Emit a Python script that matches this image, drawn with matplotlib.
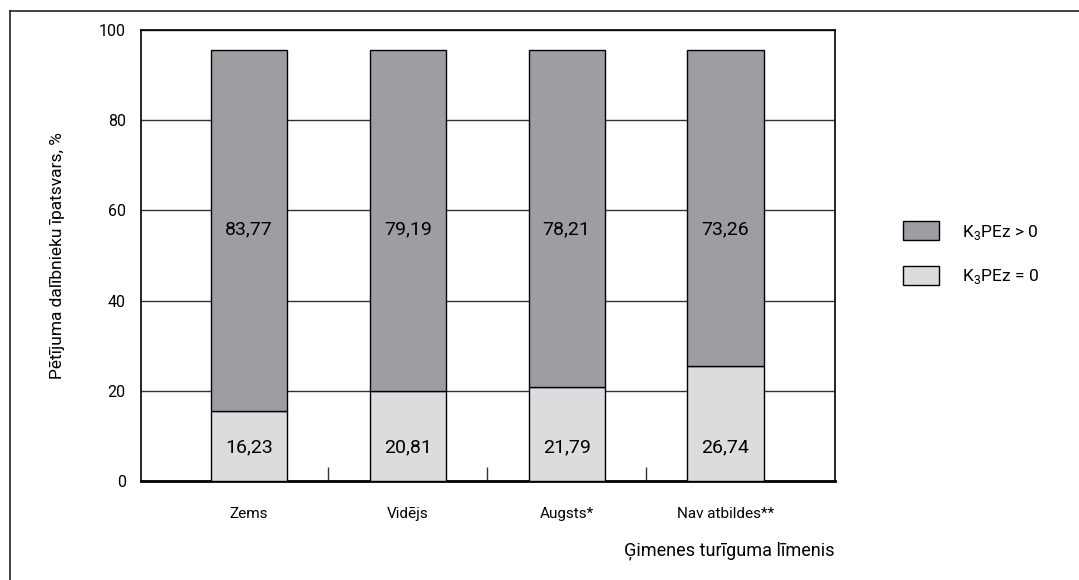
import matplotlib
matplotlib.use("Agg")
import matplotlib.pyplot as plt
from matplotlib.patches import Patch
from matplotlib.lines import Line2D
import numpy as np

plt.rcParams['font.family'] = ['Roboto', 'DejaVu Sans']

categories = ["Zems", "Vidējs", "Augsts*", "Nav atbildes**"]
zero_vals = [16.23, 20.81, 21.79, 26.74]
pos_vals = [83.77, 79.19, 78.21, 73.26]
ytick_vals = [0, 20, 40, 60, 80, 100]
legend_labels = [r"K$_\mathregular{3}$PEz > 0", r"K$_\mathregular{3}$PEz = 0"]
xlabel = "Ģimenes turīguma līmenis"
ylabel = "Pētījuma dalībnieku īpatsvars, %"

dark = "#9d9ea2"
light = "#dcdcde"

fig = plt.figure(figsize=(10.79, 5.80), dpi=100)
ax = fig.add_axes([0.1307, 0.1707, 0.6432, 0.7776])
axb = ax.twinx()

x = np.arange(len(categories))
ax.set_xlim(-0.68, 3.69)
ax.set_ylim(0, 100)
axb.set_ylim(0, 104.6)

ax.set_yticks(ytick_vals)
ax.set_yticklabels([str(v) for v in ytick_vals], fontsize=11.5)
ax.tick_params(axis='y', length=0, pad=11)
ax.yaxis.grid(True, color='#333333', linewidth=1.0)
ax.set_axisbelow(True)

ax.set_xticks(x)
ax.set_xticklabels(categories, fontsize=11)
ax.tick_params(axis='x', which='major', length=0, pad=19)
ax.set_xticks([0.5, 1.5, 2.5], minor=True)
ax.tick_params(axis='x', which='minor', direction='in', length=10, width=1, color='#333333')

axb.set_yticks([])
for s in axb.spines.values():
    s.set_visible(False)
for name, s in ax.spines.items():
    s.set_color('black')
    s.set_linewidth(1.2)
ax.spines['bottom'].set_linewidth(2.0)

w = 0.48
axb.bar(x, zero_vals, width=w, color=light, edgecolor='black', linewidth=1.0, zorder=3)
axb.bar(x, pos_vals, width=w, bottom=zero_vals, color=dark, edgecolor='black', linewidth=1.0, zorder=3)

for xi, zv, pv in zip(x, zero_vals, pos_vals):
    axb.text(xi, 55.7, f"{pv:.2f}".replace('.', ','), transform=ax.transData,
             ha='center', va='center', fontsize=14, zorder=5)
    axb.text(xi, 7.5, f"{zv:.2f}".replace('.', ','), transform=ax.transData,
             ha='center', va='center', fontsize=14, zorder=5)

ax.set_ylabel(ylabel, fontsize=12.5)
ax.yaxis.set_label_coords(-0.11, 0.5)
fig.text(835 / 1079, 1 - 551 / 580, xlabel, ha='right', va='center', fontsize=13)

handles = [Patch(facecolor=dark, edgecolor='black', linewidth=1.0),
           Patch(facecolor=light, edgecolor='black', linewidth=1.0)]
fig.legend(handles, legend_labels, loc='upper left',
           bbox_to_anchor=(903 / 1079, 1 - 221 / 580), frameon=False,
           fontsize=12.5, handlelength=2.1, handleheight=1.35,
           labelspacing=1.4, handletextpad=1.3, borderpad=0, borderaxespad=0)

# outer frame lines
fig.add_artist(Line2D([10 / 1079, 10 / 1079], [0, 1 - 11 / 580], transform=fig.transFigure,
                      color='#222222', linewidth=1.2))
fig.add_artist(Line2D([10 / 1079, 1], [1 - 11 / 580, 1 - 11 / 580], transform=fig.transFigure,
                      color='#222222', linewidth=1.2))

fig.savefig("out.png", dpi=100)
